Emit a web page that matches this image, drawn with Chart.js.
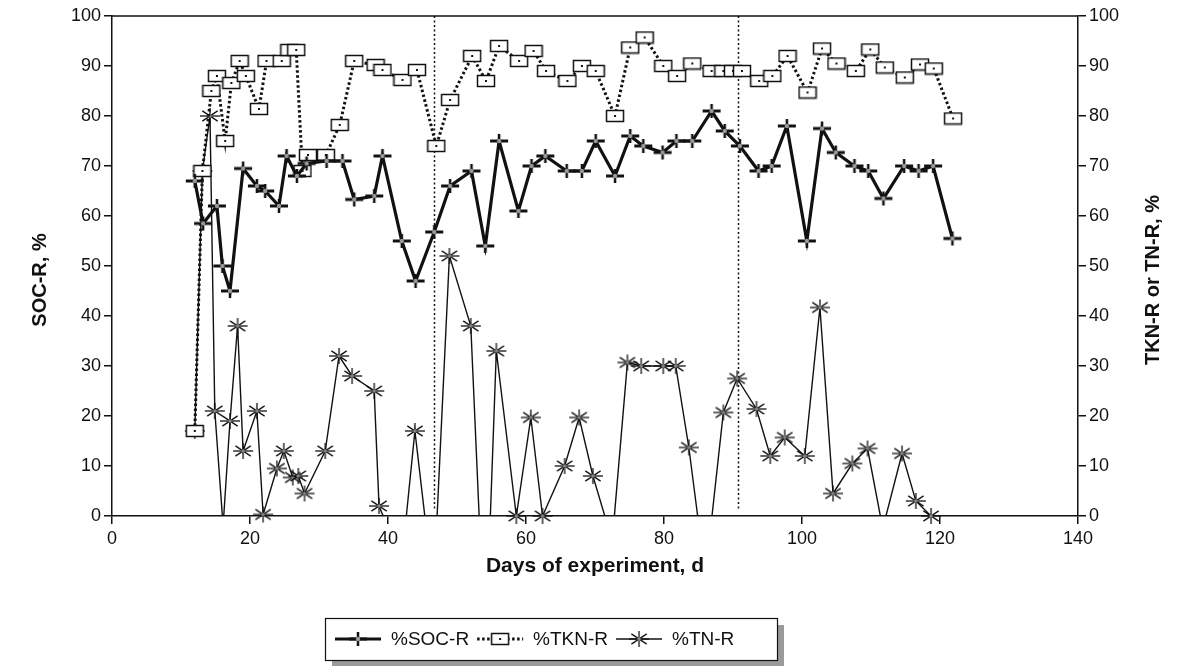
<!DOCTYPE html>
<html>
<head>
<meta charset="utf-8">
<script src="https://cdn.jsdelivr.net/npm/chart.js@4.4.1/dist/chart.umd.min.js"></script>
<style>
  html, body { margin: 0; padding: 0; background: #fff; }
  #wrap { width: 1179px; height: 666px; }
</style>
</head>
<body>
<div id="wrap"><canvas id="grafico" width="1179" height="666"></canvas></div>
<script>
// values (days of experiment, %)
const socDays = [12, 13.2, 15.2, 16, 17.1, 19, 21, 22.2, 24.2, 25.3, 26.8, 28.2, 31.1, 33.4, 35.1, 38, 39.2, 42, 44, 46.7,
  49, 52.1, 54.1, 56.1, 58.9, 60.8, 62.8, 65.9, 68.1, 70.1, 72.9, 75.1, 77, 79.8, 81.8, 84.1, 86.9, 88.8, 91, 93.7,
  95.6, 97.8, 100.7, 102.9, 104.9, 107.6, 109.6, 111.8, 114.8, 116.9, 119, 121.8];
const socValues = [67, 58.5, 62, 50, 45, 69.5, 66, 65, 62, 72, 68, 70.5, 71, 71, 63.3, 64, 72, 55, 47, 56.8,
  66, 69, 54, 75, 61, 70, 72, 69, 69, 75, 68, 76, 74, 72.7, 75, 75, 81, 77, 74, 69,
  70, 78, 55, 77.5, 72.7, 70, 69, 63.5, 70, 69, 70, 55.5];

const tknDays = [12, 13.1, 14.4, 15.2, 16.4, 17.3, 18.5, 19.4, 21.3, 22.4, 24.6, 25.7, 26.7, 27.6, 28.4, 31, 33, 35.1, 38.2, 39.2,
  42.1, 44.2, 47, 49, 52.2, 54.2, 56.1, 59, 61.1, 62.9, 66, 68.1, 70.1, 72.9, 75.1, 77.2, 79.9, 81.9, 84.1, 86.9,
  88.6, 90, 91.3, 93.8, 95.7, 97.9, 100.8, 102.9, 105, 107.8, 109.9, 112, 114.9, 117.1, 119.1, 121.9];
const tknValues = [17, 69, 85, 88, 75, 86.6, 91, 88, 81.4, 91, 91, 93.2, 93.2, 69, 72.2, 72.2, 78.2, 91, 90.2, 89.2,
  87.2, 89.2, 74, 83.2, 92, 87, 94, 91, 93, 89, 87, 90, 89, 80, 93.7, 95.7, 90, 88, 90.5, 89,
  89, 89, 89, 87, 88, 92, 84.7, 93.5, 90.5, 89, 93.3, 89.7, 87.7, 90.3, 89.5, 79.5];

const tnDays = [12, 13.1, 14.2, 14.9, 16.1, 17.1, 18.2, 19, 21, 21.9, 23.9, 24.9, 26.2, 27, 27.9, 30.9, 32.9, 34.8, 38, 38.7,
  42, 43.9, 46.6, 48.9, 52, 54.1, 55.7, 58.6, 60.7, 62.4, 65.6, 67.7, 69.7, 72.5, 74.7, 76.7, 79.9, 81.7, 83.6, 86,
  88.6, 90.6, 93.4, 95.4, 97.5, 100.4, 102.6, 104.5, 107.3, 109.5, 111.7, 114.5, 116.5, 118.7];
const tnValues = [17, 69, 80, 21, -2, 19, 38, 13, 21, 0.3, 9.5, 13, 7.7, 8, 4.5, 13, 32, 28, 25, 2,
  -9, 17, -15, 52, 38, -28, 33, 0, 19.7, 0, 10, 19.7, 8, -5, 30.7, 30, 30, 30, 13.7, -12,
  20.7, 27.5, 21.4, 12, 15.7, 12, 41.7, 4.5, 10.5, 13.5, -2.5, 12.5, 3, 0];

// dotted vertical separators between phases
const phaseDays = [46.6, 90.7];

const xTicks = [0, 20, 40, 60, 80, 100, 120, 140];
const yTicks = [0, 10, 20, 30, 40, 50, 60, 70, 80, 90, 100];

const ink = '#111';
Chart.defaults.font.family = "'Liberation Sans', Arial, Helvetica, sans-serif";
Chart.defaults.color = ink;

function toPoints(dias, valores) {
    return dias.map((d, i) => ({ x: d, y: valores[i] }));
}

function makeMarker(w, h, paint) {
    const c = document.createElement('canvas');
    c.width = w;
    c.height = h;
    paint(c.getContext('2d'), w, h);
    return c;
}

const plusMark = makeMarker(20, 16, (g, w, h) => {
    g.strokeStyle = ink;
    g.lineWidth = 3;
    g.beginPath(); g.moveTo(1, 8); g.lineTo(w - 1, 8); g.stroke();
    g.lineWidth = 2.5;
    g.beginPath(); g.moveTo(10, 1); g.lineTo(10, h - 1); g.stroke();
    g.fillStyle = '#999';
    g.beginPath(); g.arc(10, 8, 2.2, 0, Math.PI * 2); g.fill();
});

const boxMark = makeMarker(20, 14, (g, w, h) => {
    g.fillStyle = '#fff';
    g.fillRect(1, 1, w - 2, h - 2);
    g.strokeStyle = ink;
    g.lineWidth = 1.5;
    g.strokeRect(1.5, 1.5, w - 3, h - 3);
    g.fillStyle = ink;
    g.fillRect(9, 6, 2, 2);
});

const starMark = makeMarker(22, 18, (g, w, h) => {
    g.strokeStyle = ink;
    g.lineWidth = 1.3;
    [0, 40, 90, 140].forEach(a => {
        const r = a * Math.PI / 180;
        const dx = Math.cos(r) * 10, dy = Math.sin(r) * 8;
        g.beginPath(); g.moveTo(11 - dx, 9 - dy); g.lineTo(11 + dx, 9 + dy); g.stroke();
    });
    g.fillStyle = '#888';
    g.beginPath(); g.arc(11, 9, 1.8, 0, Math.PI * 2); g.fill();
});

const legendItems = [
    { label: '%SOC-R', mark: plusMark, width: 3, dash: [] },
    { label: '%TKN-R', mark: boxMark, width: 3, dash: [2.5, 2.5] },
    { label: '%TN-R', mark: starMark, width: 1.3, dash: [] },
];

const moldura = {
    id: 'moldura',
    beforeDatasetsDraw(chart) {
        const { ctx, chartArea, scales } = chart;
        ctx.save();
        ctx.strokeStyle = ink;
        ctx.lineWidth = 1.5;
        ctx.setLineDash([2, 2.5]);
        phaseDays.forEach(d => {
            const px = Math.round(scales.x.getPixelForValue(d)) + 0.5;
            ctx.beginPath();
            ctx.moveTo(px, chartArea.top);
            ctx.lineTo(px, chartArea.bottom - 5);
            ctx.stroke();
        });
        ctx.restore();
    },
    afterDraw(chart) {
        const { ctx, chartArea } = chart;
        ctx.save();
        // top frame line
        ctx.strokeStyle = ink;
        ctx.lineWidth = 1.5;
        ctx.beginPath();
        ctx.moveTo(chartArea.left, chartArea.top);
        ctx.lineTo(chartArea.right, chartArea.top);
        ctx.stroke();

        // axis titles, both reading bottom to top
        ctx.fillStyle = ink;
        ctx.font = "bold 20px 'Liberation Sans', Arial, sans-serif";
        ctx.textAlign = 'center';
        ctx.textBaseline = 'middle';
        const meio = (chartArea.top + chartArea.bottom) / 2 + 14;
        [[40, 'SOC-R, %'], [1153, 'TKN-R or TN-R, %']].forEach(([tx, texto]) => {
            ctx.save();
            ctx.translate(tx, meio);
            ctx.rotate(-Math.PI / 2);
            ctx.fillText(texto, 0, 0);
            ctx.restore();
        });

        // legend box with drop shadow
        const bx = 325, by = 618, bw = 452, bh = 42;
        ctx.fillStyle = '#9a9a9a';
        ctx.fillRect(bx + 7, by + 7, bw, bh);
        ctx.fillStyle = '#fff';
        ctx.fillRect(bx, by, bw, bh);
        ctx.strokeStyle = ink;
        ctx.lineWidth = 1.2;
        ctx.strokeRect(bx + 0.5, by + 0.5, bw, bh);

        ctx.font = "19px 'Liberation Sans', Arial, sans-serif";
        ctx.textAlign = 'left';
        const cy = by + bh / 2;
        let cx = bx + 10;
        legendItems.forEach(item => {
            ctx.lineWidth = item.width;
            ctx.setLineDash(item.dash);
            ctx.beginPath();
            ctx.moveTo(cx, cy);
            ctx.lineTo(cx + 46, cy);
            ctx.stroke();
            ctx.setLineDash([]);
            ctx.drawImage(item.mark, cx + 23 - item.mark.width / 2, cy - item.mark.height / 2);
            ctx.fillStyle = ink;
            ctx.fillText(item.label, cx + 56, cy + 1);
            cx += 56 + ctx.measureText(item.label).width + 8;
        });
        ctx.restore();
    }
};

const eixoY = (pos, largura) => ({
    position: pos,
    min: 0,
    max: 100,
    afterBuildTicks: s => { s.ticks = yTicks.map(v => ({ value: v })); },
    ticks: { color: ink, font: { size: 18 }, padding: 3 },
    grid: { drawOnChartArea: false, color: ink, lineWidth: 1.5, tickLength: 8 },
    border: { color: ink, width: 1.5 },
    afterFit: s => { s.width = largura; }
});

new Chart(document.getElementById('grafico'), {
    type: 'line',
    data: {
        datasets: [
            {
                label: '%SOC-R',
                data: toPoints(socDays, socValues),
                borderColor: ink,
                borderWidth: 3.2,
                pointStyle: plusMark,
                pointRadius: 5,
                yAxisID: 'y'
            },
            {
                label: '%TKN-R',
                data: toPoints(tknDays, tknValues),
                borderColor: ink,
                borderWidth: 3,
                borderDash: [2.5, 2.5],
                pointStyle: boxMark,
                pointRadius: 5,
                yAxisID: 'y2'
            },
            {
                label: '%TN-R',
                data: toPoints(tnDays, tnValues),
                showLine: false,
                clip: false,
                pointStyle: starMark,
                pointRadius: 5,
                pointBorderWidth: 0,
                yAxisID: 'y2'
            },
            {
                label: '%TN-R linha',
                data: toPoints(tnDays, tnValues),
                borderColor: ink,
                borderWidth: 1.4,
                pointRadius: 0,
                yAxisID: 'y2'
            }
        ]
    },
    options: {
        responsive: false,
        animation: false,
        events: [],
        layout: { padding: { top: 16, bottom: 75, left: 0, right: 0 } },
        plugins: { legend: { display: false }, tooltip: { enabled: false } },
        scales: {
            x: {
                type: 'linear',
                min: 0,
                max: 140,
                afterBuildTicks: s => { s.ticks = xTicks.map(v => ({ value: v })); },
                ticks: { color: ink, font: { size: 18 }, padding: 4 },
                grid: { drawOnChartArea: false, color: ink, lineWidth: 1.5, tickLength: 8 },
                border: { color: ink, width: 1.5 },
                title: {
                    display: true,
                    text: 'Days of experiment, d',
                    color: ink,
                    font: { size: 21, weight: 'bold' },
                    padding: { top: 0, bottom: 12 }
                },
                afterFit: s => { s.height = 75; }
            },
            y: eixoY('left', 112),
            y2: eixoY('right', 101)
        }
    },
    plugins: [moldura]
});
</script>
</body>
</html>
